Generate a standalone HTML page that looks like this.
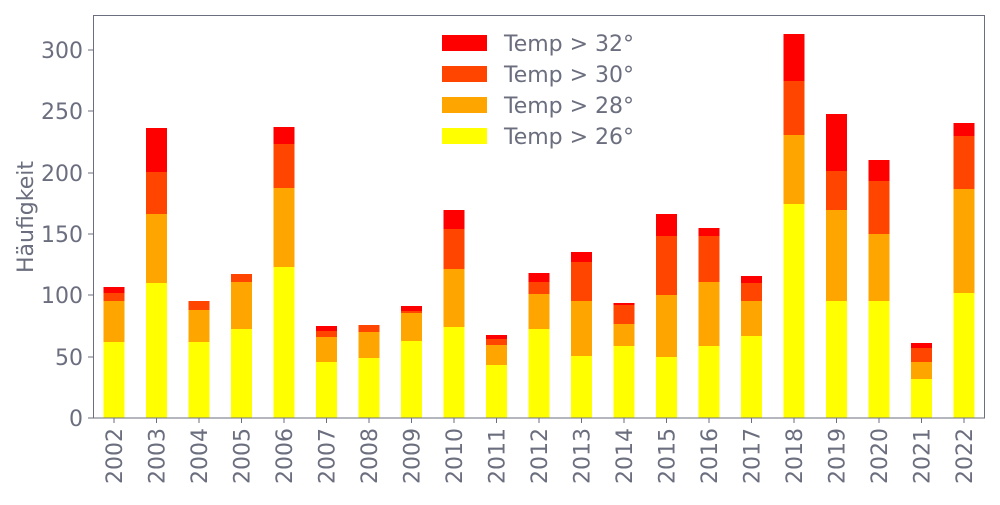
<!DOCTYPE html>
<html><head><meta charset="utf-8"><style>html,body{margin:0;padding:0;background:#fff}</style></head>
<body>
<svg width="1000" height="500" xmlns="http://www.w3.org/2000/svg" font-family="DejaVu Sans, Liberation Sans, sans-serif" fill="#6b6e7e">
<rect width="1000" height="500" fill="#fff"/>
<g id="bars"></g>
<rect x="93.5" y="15.5" width="891" height="402.5" fill="none" stroke="#6b6e7e" stroke-width="1"/>
<g font-size="22" text-anchor="end">
<text x="83" y="426">0</text><line x1="88" x2="93" y1="418" y2="418" stroke="#6b6e7e"/>
<text x="83" y="365">50</text><line x1="88" x2="93" y1="357" y2="357" stroke="#6b6e7e"/>
<text x="83" y="303">100</text><line x1="88" x2="93" y1="295" y2="295" stroke="#6b6e7e"/>
<text x="83" y="242">150</text><line x1="88" x2="93" y1="234" y2="234" stroke="#6b6e7e"/>
<text x="83" y="181">200</text><line x1="88" x2="93" y1="173" y2="173" stroke="#6b6e7e"/>
<text x="83" y="119">250</text><line x1="88" x2="93" y1="111" y2="111" stroke="#6b6e7e"/>
<text x="83" y="58">300</text><line x1="88" x2="93" y1="50" y2="50" stroke="#6b6e7e"/>
</g>
<text transform="translate(33,217) rotate(-90)" font-size="22" text-anchor="middle">Häufigkeit</text>
<g id="xl" font-size="22"></g>
<g font-size="22">
<rect x="442" y="35" width="45" height="16" fill="#ff0000"/><text x="504" y="51">Temp &gt; 32°</text>
<rect x="442" y="66" width="45" height="16" fill="#ff4500"/><text x="504" y="82">Temp &gt; 30°</text>
<rect x="442" y="97" width="45" height="16" fill="#ffa500"/><text x="504" y="113">Temp &gt; 28°</text>
<rect x="442" y="128" width="45" height="16" fill="#ffff00"/><text x="504" y="144">Temp &gt; 26°</text>
</g>
</svg>
<script>
var d=[[342,301,293,287],[283,214,172,128],[342,310,301,301],[329,282,274,274],[267,188,144,127],[362,337,331,326],[358,332,325,325],[341,313,311,306],[327,269,229,210],[365,345,339,335],[329,294,282,273],[356,301,262,252],[346,324,305,303],[357,295,236,214],[346,282,236,228],[336,301,283,276],[204,135,81,34],[301,210,171,114],[301,234,181,160],[379,362,348,343],[293,189,136,123]];
var c=["#ffff00","#ffa500","#ff4500","#ff0000"],ns="http://www.w3.org/2000/svg";
var g=document.getElementById("bars"),xl=document.getElementById("xl");
d.forEach(function(v,i){var cx=114+i*42.5,prev=418;
v.forEach(function(t,j){if(prev>t){var r=document.createElementNS(ns,"rect");r.setAttribute("x",cx-10.5);r.setAttribute("width",21);r.setAttribute("y",t);r.setAttribute("height",prev-t);r.setAttribute("fill",c[j]);g.appendChild(r);}prev=t;});
var l=document.createElementNS(ns,"line");l.setAttribute("x1",cx);l.setAttribute("x2",cx);l.setAttribute("y1",418);l.setAttribute("y2",423);l.setAttribute("stroke","#6b6e7e");xl.appendChild(l);
var tx=document.createElementNS(ns,"text");tx.setAttribute("transform","translate("+(cx+8)+",428) rotate(-90)");tx.setAttribute("text-anchor","end");tx.textContent=2002+i;xl.appendChild(tx);});
</script>
</body></html>
